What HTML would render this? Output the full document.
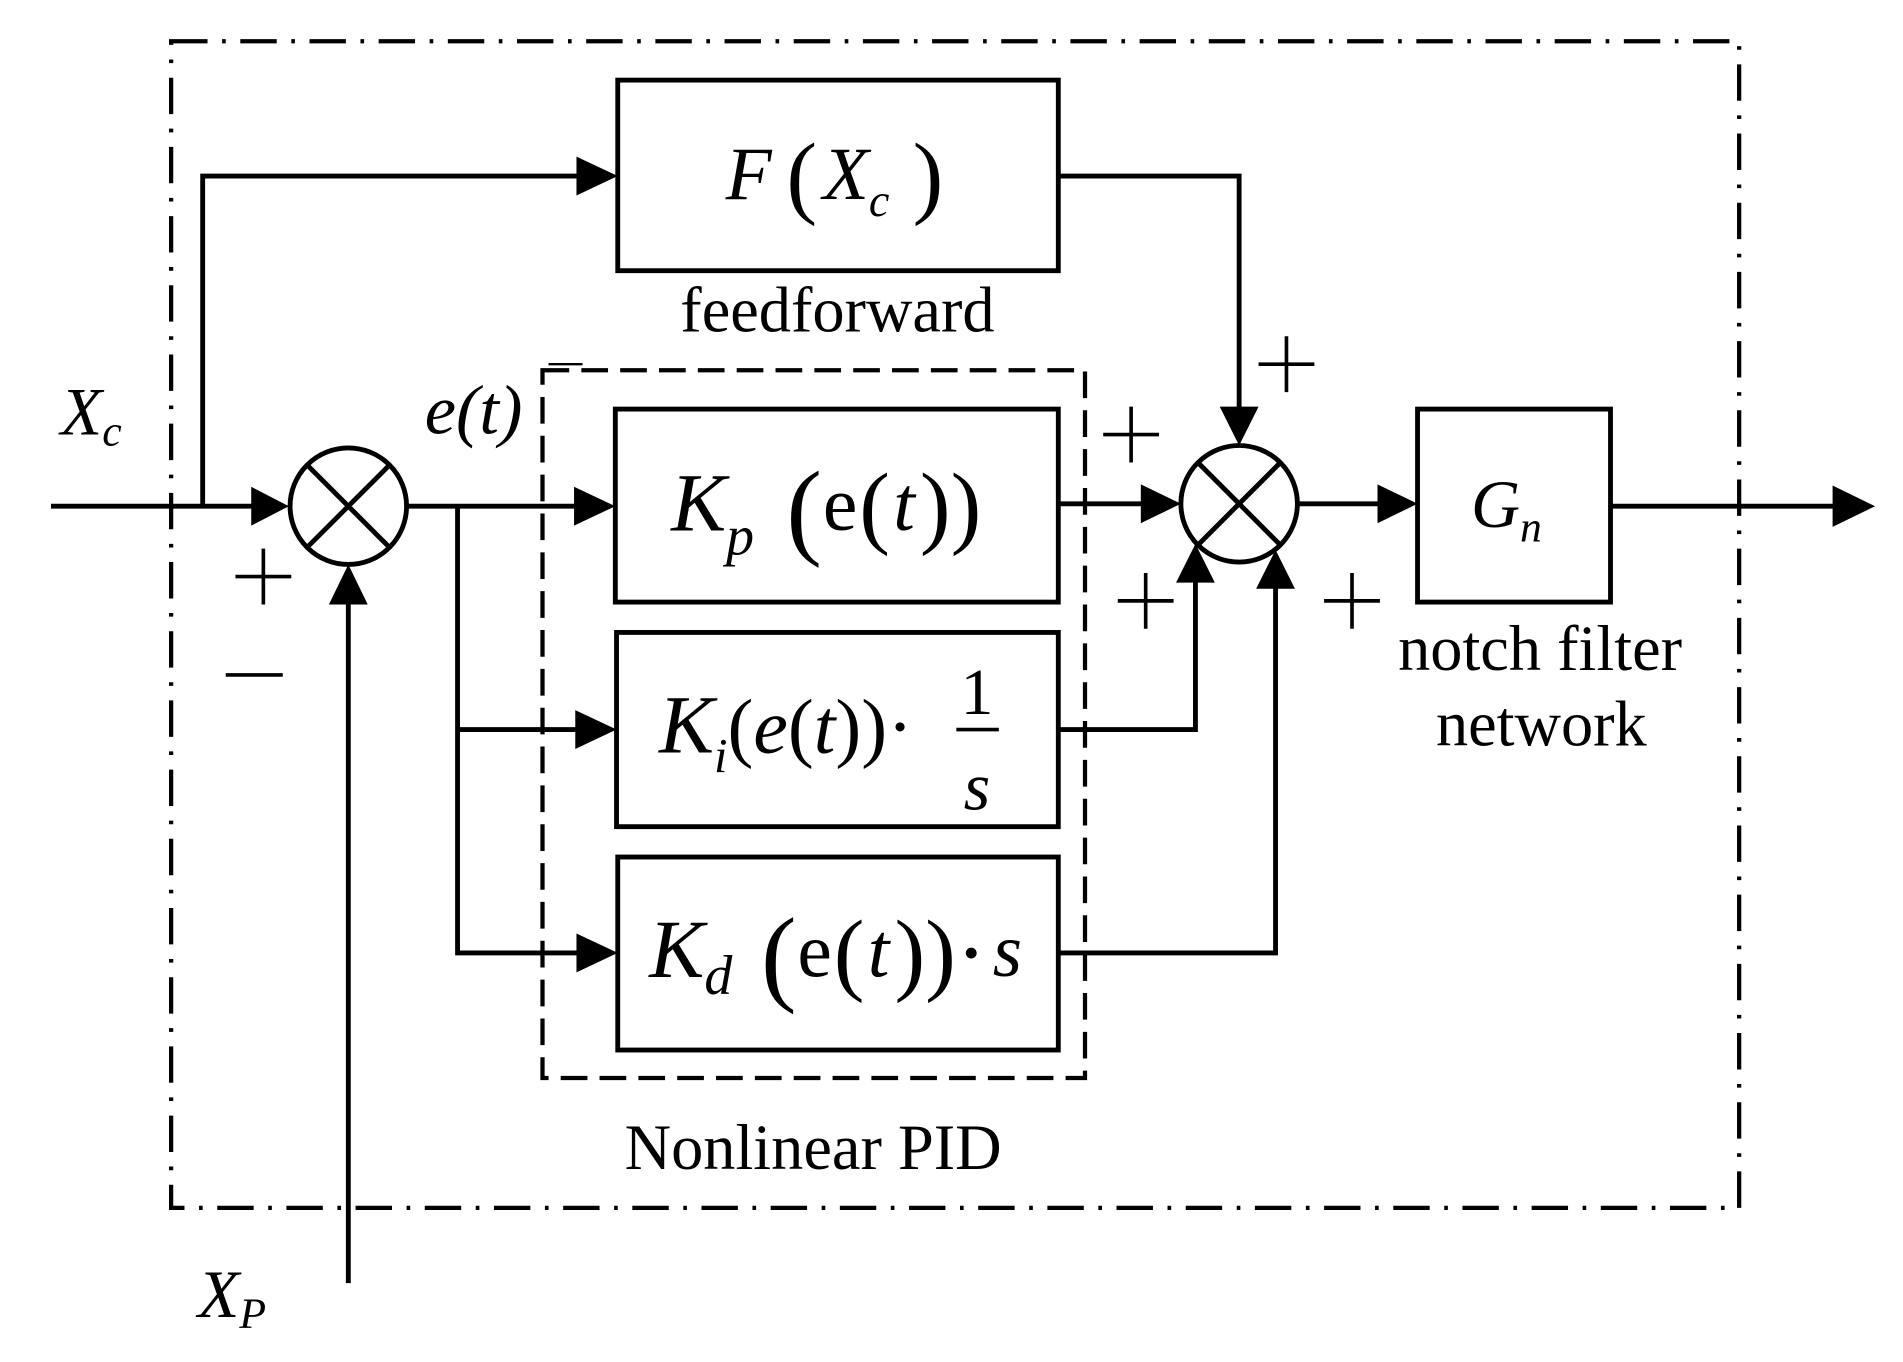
<!DOCTYPE html>
<html><head><meta charset="utf-8"><style>html,body{margin:0;padding:0;background:#fff}svg{display:block}</style></head>
<body>
<svg width="1903" height="1362" viewBox="0 0 1568 1122" preserveAspectRatio="none" xmlns="http://www.w3.org/2000/svg" font-family="Liberation Serif, serif">
<g fill="none" stroke="#000">
<rect x="141" y="34" width="1292" height="961" stroke-width="3.5" stroke-dasharray="30,12,3,12"/>
<rect x="447" y="305" width="447" height="583" stroke-width="3.5" stroke-dasharray="22,10"/>
<line x1="452" y1="300" x2="480" y2="300" stroke-width="2"/>
<g stroke-width="3">
<path d="M194,475 h46 M217,452 v46"/>
<path d="M186,556 h47"/>
<path d="M1037,300 h46 M1060,277 v46"/>
<path d="M909,358 h46 M932,335 v46"/>
<path d="M921,495 h46 M944,472 v46"/>
<path d="M1091,495 h46 M1114,472 v46"/>
</g>
<g stroke-width="4">
<rect x="509" y="66" width="363" height="157"/>
<rect x="507" y="337" width="365" height="159"/>
<rect x="508" y="521" width="364" height="160"/>
<rect x="509" y="706" width="363" height="159"/>
<rect x="1168" y="337" width="159" height="159"/>
<circle cx="287" cy="417" r="48"/>
<line x1="253" y1="383" x2="321" y2="451"/><line x1="321" y1="383" x2="253" y2="451"/>
<circle cx="1021" cy="415" r="48"/>
<line x1="987" y1="381" x2="1055" y2="449"/><line x1="1055" y1="381" x2="987" y2="449"/>
<polyline points="42,417 212,417"/>
<polyline points="167,417 167,145 480,145"/>
<polyline points="287,1057 287,494"/>
<polyline points="335,417 480,417"/>
<polyline points="377,417 377,785 480,785"/>
<line x1="377" y1="601" x2="480" y2="601"/>
<line x1="872" y1="415" x2="946" y2="415"/>
<polyline points="872,145 1021,145 1021,340"/>
<polyline points="872,601 985,601 985,478"/>
<polyline points="872,785 1051,785 1051,483"/>
<line x1="1069" y1="415" x2="1142" y2="415"/>
<line x1="1327" y1="417" x2="1515" y2="417"/>
</g></g>
<g fill="#000">
<path d="M207,401 L238,417 L207,433z"/>
<path d="M475,129 L509,145 L475,161z"/>
<path d="M271,498 L287,465 L303,498z"/>
<path d="M473,401 L507,417 L473,433z"/>
<path d="M474,585 L508,601 L474,617z"/>
<path d="M475,769 L509,785 L475,801z"/>
<path d="M940,399 L973,415 L940,431z"/>
<path d="M1005,335 L1021,367 L1037,335z"/>
<path d="M969,480 L985,448 L1001,480z"/>
<path d="M1035,485 L1051,453 L1067,485z"/>
<path d="M1135,399 L1168,415 L1135,431z"/>
<path d="M1510,400 L1545,417 L1510,434z"/>
</g>
<g font-size="53" text-anchor="middle">
<text x="690" y="273">feedforward</text>
<text x="1269" y="552">notch filter</text>
<text x="1270" y="614">network</text>
<text x="670" y="963">Nonlinear PID</text>
</g>
<g font-style="italic">
<text x="50" y="358" font-size="56">X<tspan font-size="36" dy="9">c</tspan></text>
<text x="163" y="1085" font-size="56">X<tspan font-size="36" dy="9">P</tspan></text>
<text x="350" y="357" font-size="58">e(t)</text>
<text x="598" y="164" font-size="62">F</text>
<text x="648" y="170" font-size="76" font-style="normal">(</text>
<text x="678" y="164" font-size="62">X<tspan font-size="38" dy="14">c</tspan></text>
<text x="752" y="170" font-size="76" font-style="normal">)</text>
<text x="553" y="437" font-size="68">K<tspan font-size="46" dy="20">p</tspan></text>
<text x="648" y="449" font-size="88" font-style="normal">(</text>
<text x="678" y="436" font-size="64" font-style="normal">e</text>
<text x="708" y="442" font-size="76" font-style="normal">(</text>
<text x="736" y="436" font-size="64">t</text>
<text x="758" y="442" font-size="76" font-style="normal">))</text>
<text x="543" y="620" font-size="68">K<tspan font-size="40" dy="16">i</tspan><tspan font-style="normal" font-size="64" dy="-16">(</tspan><tspan font-size="64">e</tspan><tspan font-style="normal" font-size="64">(</tspan><tspan font-size="64">t</tspan><tspan font-style="normal" font-size="64">))·</tspan></text>
<text x="805" y="588" font-size="54" font-style="normal" text-anchor="middle">1</text>
<line x1="788" y1="601" x2="823" y2="601" stroke="#000" stroke-width="3"/>
<text x="805" y="667" font-size="56" text-anchor="middle">s</text>
<text x="535" y="805" font-size="68">K<tspan font-size="46" dy="14">d</tspan></text>
<text x="627" y="817" font-size="88" font-style="normal">(</text>
<text x="657" y="804" font-size="64" font-style="normal">e</text>
<text x="687" y="810" font-size="76" font-style="normal">(</text>
<text x="715" y="804" font-size="64">t</text>
<text x="737" y="810" font-size="76" font-style="normal">))·</text>
<text x="818" y="804" font-size="62">s</text>
<text x="1212" y="434" font-size="56">G<tspan font-size="36" dy="12">n</tspan></text>
</g>
</svg>
</body></html>
